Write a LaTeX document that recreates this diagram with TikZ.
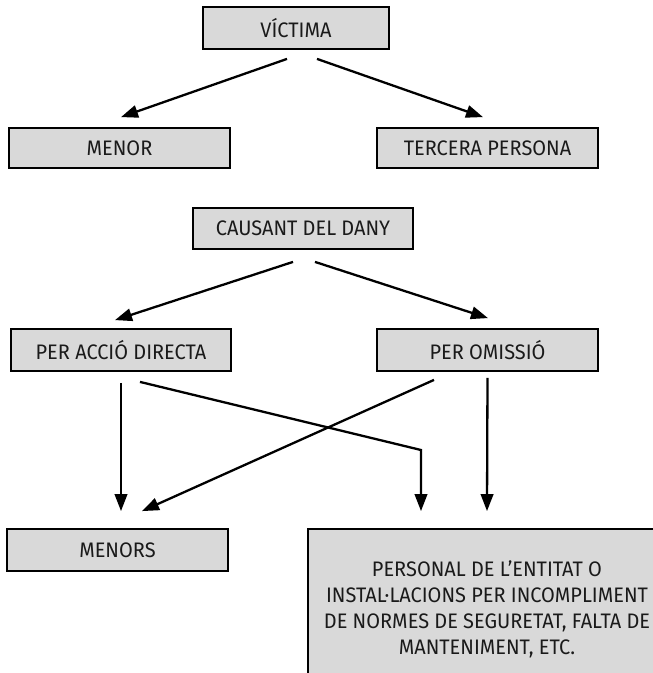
\documentclass[tikz,border=0pt]{standalone}
\usepackage{fontspec}
\setmainfont[FakeStretch=0.95]{Fira Sans}
\usetikzlibrary{arrows.meta}
\definecolor{boxgray}{HTML}{D9D9D9}
\definecolor{ink}{HTML}{1A1A1A}
\begin{document}
\begin{tikzpicture}[x=1pt,y=-1pt,
  box/.style={draw=black, line width=1.8pt, fill=boxgray, text=ink, inner sep=0pt,
    font=\fontsize{21}{26}\selectfont},
  arr/.style={line width=2.3pt, -{Triangle[length=17pt,width=12.5pt]}},
  ln/.style={line width=2.3pt}]
\useasboundingbox (0,0) rectangle (653,673);
\clip (0,0) rectangle (653,673);
\node[box, minimum width=186pt, minimum height=42pt] (victima) at (296,28) {VÍCTIMA};
\node[box, minimum width=221pt, minimum height=40pt] (menor) at (119.5,148) {MENOR};
\node[box, minimum width=221pt, minimum height=40pt] (tercera) at (487.5,148) {TERCERA PERSONA};
\node[box, minimum width=220pt, minimum height=41pt] (causant) at (303,228.5) {CAUSANT DEL DANY};
\node[box, minimum width=220pt, minimum height=42pt] (accio) at (121,350) {PER ACCIÓ DIRECTA};
\node[box, minimum width=221pt, minimum height=42pt] (omissio) at (487.5,350) {PER OMISSIÓ};
\node[box, minimum width=221pt, minimum height=42pt] (menors) at (117.5,550) {MENORS};
\node[box, minimum width=358pt, minimum height=160pt, align=center] (personal) at (487,609)
  {PERSONAL DE L’ENTITAT O\\INSTAL·LACIONS PER INCOMPLIMENT\\DE NORMES DE SEGURETAT, FALTA DE\\MANTENIMENT, ETC.};
\draw[arr] ([shift={(-9,9)}]victima.south) -- ([shift={(1.5,-10)}]menor.north);
\draw[arr] ([shift={(21,9)}]victima.south) -- ([shift={(-4.5,-10)}]tercera.north);
\draw[arr] ([shift={(-10,12)}]causant.south) -- ([shift={(-6,-8)}]accio.north);
\draw[arr] ([shift={(12,12)}]causant.south) -- ([shift={(0.5,-10)}]omissio.north);
\draw[arr] ([shift={(0,11)}]accio.south) -- ([shift={(3.5,-17)}]menors.north);
\coordinate (bend) at (421,450);
\draw[arr] ([shift={(19,10)}]accio.south) -- (bend) -- ([shift={(-66,-17)}]personal.north);
\draw[arr] ([shift={(-53.5,8)}]omissio.south) -- ([shift={(24.5,-17)}]menors.north);
\draw[arr] ([shift={(0,6)}]omissio.south) -- ([shift={(0,-17)}]personal.north);
\end{tikzpicture}
\end{document}
